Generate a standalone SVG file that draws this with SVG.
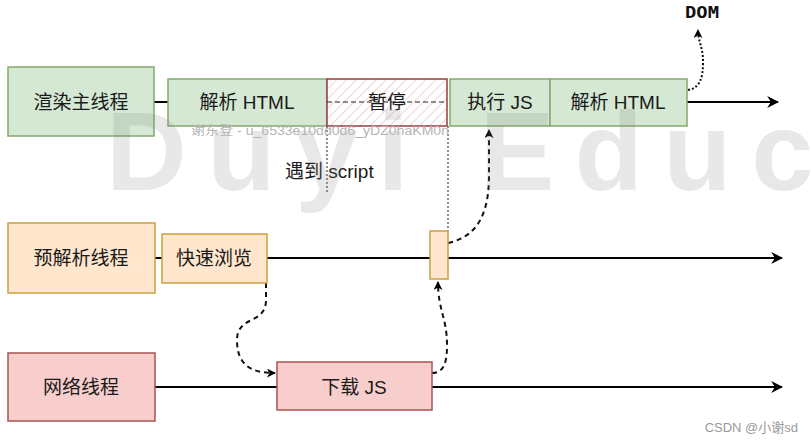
<svg xmlns="http://www.w3.org/2000/svg" width="811" height="442" viewBox="0 0 811 442">
<style>
.t{font-family:"Liberation Sans","Noto Sans CJK SC",sans-serif;font-size:19px;fill:#1a1a1a;text-anchor:middle}
.g{fill:#d5e8d4;stroke:#82a86e;stroke-width:1.5}
.o{fill:#ffe6cc;stroke:#c9a040;stroke-width:1.5}
.r{fill:#f8cecc;stroke:#a85450;stroke-width:1.5}
.ln{stroke:#000;stroke-width:2;fill:none}
.dash{stroke:#111;stroke-width:2;fill:none;stroke-dasharray:5,4}
.dot{stroke:#111;stroke-width:2;fill:none;stroke-dasharray:2,2}
.vdot{stroke:#444;stroke-width:1.2;fill:none;stroke-dasharray:2,2}
</style>
<defs>
<marker id="ah" viewBox="0 0 10 10" refX="9" refY="5" markerWidth="9" markerHeight="9" markerUnits="userSpaceOnUse" orient="auto">
<path d="M0,0 L10,5 L0,10 L3,5 z" fill="#000"/>
</marker>
<marker id="ah2" viewBox="0 0 10 10" refX="9" refY="5" markerWidth="12" markerHeight="12" markerUnits="userSpaceOnUse" orient="auto">
<path d="M0,0 L10,5 L0,10 L3,5 z" fill="#000"/>
</marker>
<pattern id="hatch" patternUnits="userSpaceOnUse" width="7" height="7" patternTransform="rotate(45)">
<line x1="0" y1="0" x2="0" y2="7" stroke="#eaa5a5" stroke-width="1"/>
</pattern>
</defs>
<rect width="811" height="442" fill="#fff"/>

<g id="connectors">
<line class="ln" x1="154" y1="102" x2="168" y2="102"/>
<line class="ln" x1="687" y1="102" x2="778" y2="102" marker-end="url(#ah2)"/>
<line class="ln" x1="155" y1="258" x2="162" y2="258"/>
<line class="ln" x1="267" y1="258" x2="782" y2="258" marker-end="url(#ah2)"/>
<line class="ln" x1="155" y1="387" x2="277" y2="387"/>
<line class="ln" x1="432" y1="387" x2="782" y2="387" marker-end="url(#ah2)"/>
<line class="vdot" x1="327" y1="126" x2="327" y2="192"/>
<line class="vdot" x1="448" y1="126" x2="448" y2="231"/>
<path class="dash" d="M266,283 L266,300 C266,325 237,315 237,340 C237,366 252,373 275,373" marker-end="url(#ah)"/>
<path class="dash" d="M432,373 C445,373 447,360 447,345 C447,318 438,310 438,282" marker-end="url(#ah)"/>
<path class="dash" d="M448,243 C480,236 489,210 489,175 L489,130" marker-end="url(#ah)"/>
<path class="dot" d="M688,90 C700,88 703,78 703,62 C703,46 698,42 698,30" marker-end="url(#ah)"/>
</g>

<g id="main-thread">
<rect class="g" x="8" y="67" width="146" height="69"/>
<text class="t" x="81" y="109">渲染主线程</text>
</g>
<g id="parse-html-1">
<rect class="g" x="168" y="79" width="159" height="47"/>
<text class="t" x="247" y="109">解析 HTML</text>
</g>
<g id="pause">
<rect x="327" y="79" width="120" height="47" fill="#fff"/>
<rect x="327" y="79" width="120" height="47" fill="url(#hatch)" stroke="#9a3b3b" stroke-width="1.5"/>
<line x1="327" y1="102" x2="447" y2="102" stroke="#222" stroke-width="1.2" stroke-dasharray="5,3"/>
<text class="t" x="387" y="109">暂停</text>
</g>
<g id="exec-js">
<rect class="g" x="450" y="79" width="100" height="47"/>
<text class="t" x="500" y="109">执行 JS</text>
</g>
<g id="parse-html-2">
<rect class="g" x="550" y="79" width="137" height="47"/>
<text class="t" x="618" y="109">解析 HTML</text>
</g>
<g id="dom-label">
<text x="685" y="18" font-family="DejaVu Sans Mono,monospace" font-size="16" font-weight="bold" fill="#111" textLength="34" lengthAdjust="spacingAndGlyphs">DOM</text>
</g>
<g id="script-label">
<text x="285" y="178" font-family="Liberation Sans,Noto Sans CJK SC,sans-serif" font-size="19" fill="#1a1a1a">遇到 script</text>
</g>

<g id="preparse-thread">
<rect class="o" x="8" y="223" width="147" height="70"/>
<text class="t" x="81" y="265">预解析线程</text>
</g>
<g id="quick-scan">
<rect class="o" x="162" y="234" width="105" height="49"/>
<text class="t" x="214" y="265">快速浏览</text>
</g>
<g id="preparse-marker">
<rect class="o" x="430" y="231" width="18" height="48"/>
</g>

<g id="network-thread">
<rect class="r" x="8" y="353" width="147" height="68"/>
<text class="t" x="81" y="394">网络线程</text>
</g>
<g id="download-js">
<rect class="r" x="277" y="362" width="155" height="48"/>
<text class="t" x="354" y="394">下载 JS</text>
</g>

<g id="watermark">
<text x="106" y="190" font-family="Liberation Sans,sans-serif" font-size="112" font-weight="bold" fill="#808080" fill-opacity="0.18" letter-spacing="20">Duyi Educ</text>
<text x="191" y="135" font-family="Liberation Sans,Noto Sans CJK SC,sans-serif" font-size="12" fill="#b5b5b5" textLength="258" lengthAdjust="spacingAndGlyphs">谢东登 - u_6533e10dd0d6_yDZ0haKM0n</text>
<text x="798" y="432" font-family="Liberation Sans,Noto Sans CJK SC,sans-serif" font-size="13" fill="#999" text-anchor="end">CSDN @小谢sd</text>
</g>
</svg>
